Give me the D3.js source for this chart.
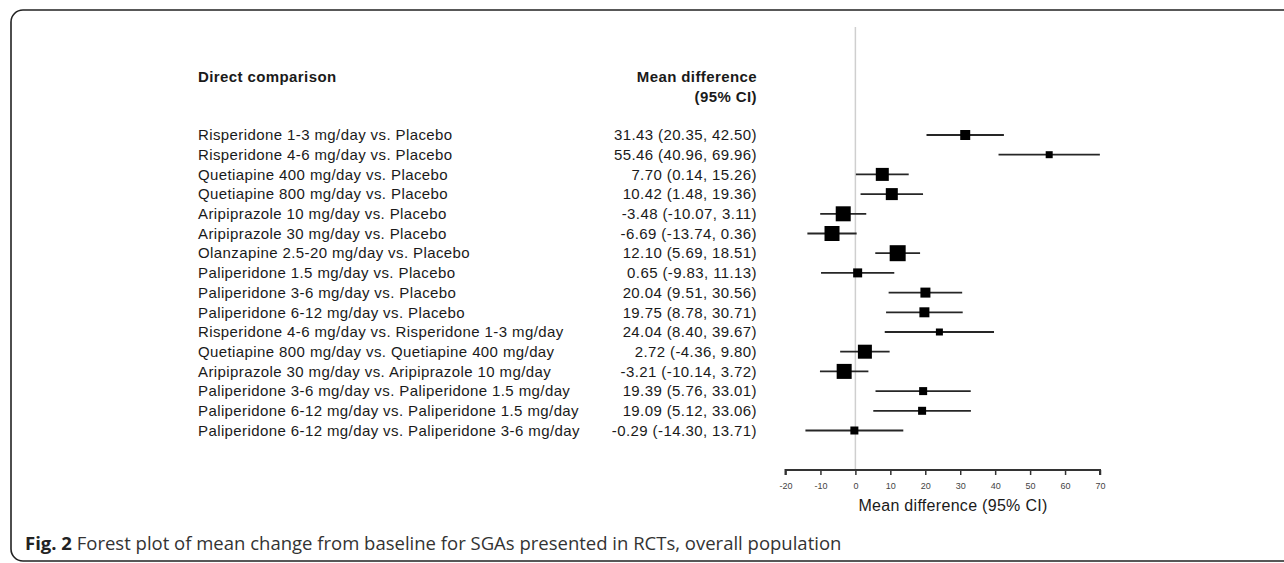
<!DOCTYPE html>
<html>
<head>
<meta charset="utf-8">
<script src="https://cdn.jsdelivr.net/npm/d3@7"></script>
<style>
  body { margin: 0; background: #fff; }
  svg text { font-family: "Liberation Sans", Arial, sans-serif; fill: #1a1a1a; }
  .row-text { font-size: 15px; letter-spacing: 0.4px; }
</style>
</head>
<body>
<div id="chart"></div>
<script>
// comparisons, top to bottom
const labels = [
  'Risperidone 1-3 mg/day vs. Placebo',
  'Risperidone 4-6 mg/day vs. Placebo',
  'Quetiapine 400 mg/day vs. Placebo',
  'Quetiapine 800 mg/day vs. Placebo',
  'Aripiprazole 10 mg/day vs. Placebo',
  'Aripiprazole 30 mg/day vs. Placebo',
  'Olanzapine 2.5-20 mg/day vs. Placebo',
  'Paliperidone 1.5 mg/day vs. Placebo',
  'Paliperidone 3-6 mg/day vs. Placebo',
  'Paliperidone 6-12 mg/day vs. Placebo',
  'Risperidone 4-6 mg/day vs. Risperidone 1-3 mg/day',
  'Quetiapine 800 mg/day vs. Quetiapine 400 mg/day',
  'Aripiprazole 30 mg/day vs. Aripiprazole 10 mg/day',
  'Paliperidone 3-6 mg/day vs. Paliperidone 1.5 mg/day',
  'Paliperidone 6-12 mg/day vs. Paliperidone 1.5 mg/day',
  'Paliperidone 6-12 mg/day vs. Paliperidone 3-6 mg/day'
];
const meanDiff = [31.43, 55.46, 7.70, 10.42, -3.48, -6.69, 12.10, 0.65, 20.04, 19.75, 24.04, 2.72, -3.21, 19.39, 19.09, -0.29];
const lower    = [20.35, 40.96, 0.14, 1.48, -10.07, -13.74, 5.69, -9.83, 9.51, 8.78, 8.40, -4.36, -10.14, 5.76, 5.12, -14.30];
const upper    = [42.50, 69.96, 15.26, 19.36, 3.11, 0.36, 18.51, 11.13, 30.56, 30.71, 39.67, 9.80, 3.72, 33.01, 33.06, 13.71];
// relative weight of each estimate (box size)
const weight   = [10, 7, 13, 12, 15, 15, 16, 9, 10, 10, 7, 14, 15, 8, 8, 8];
const xTicks = [-20, -10, 0, 10, 20, 30, 40, 50, 60, 70];

const width = 1284, height = 563;
const svg = d3.select('#chart').append('svg')
  .attr('width', width).attr('height', height);

// rounded frame
svg.append('rect')
  .attr('x', 11).attr('y', 10)
  .attr('width', 1300).attr('height', 551)
  .attr('rx', 12).attr('ry', 12)
  .attr('fill', 'none')
  .attr('stroke', '#222')
  .attr('stroke-width', 1.6);

const x = d3.scaleLinear().domain([-20, 70]).range([785.5, 1100]);
const y = d3.scalePoint().domain(d3.range(labels.length)).range([135, 430.5]);
const size = d3.scaleLinear().domain([0, 16]).range([0, 16]);

// plain hyphen for negatives, like the source figure
const fmt = v => d3.format('.2f')(v).replace('\u2212', '-');

// headers
svg.append('text').attr('x', 198).attr('y', 82)
  .attr('class', 'row-text').style('font-weight', 'bold')
  .text('Direct comparison');
svg.append('text').attr('x', 757).attr('y', 82).attr('text-anchor', 'end')
  .attr('class', 'row-text').style('font-weight', 'bold')
  .text('Mean difference');
svg.append('text').attr('x', 757).attr('y', 102).attr('text-anchor', 'end')
  .attr('class', 'row-text').style('font-weight', 'bold')
  .text('(95% CI)');

// zero line
svg.append('line')
  .attr('x1', x(0)).attr('x2', x(0))
  .attr('y1', 27).attr('y2', 469)
  .attr('stroke', '#cfcfcf').attr('stroke-width', 1.5);

const rows = svg.append('g').selectAll('g')
  .data(d3.range(labels.length)).enter().append('g');

rows.append('text')
  .attr('class', 'row-text')
  .attr('x', 198).attr('y', i => y(i)).attr('dy', '0.35em')
  .text(i => labels[i]);

rows.append('text')
  .attr('class', 'row-text')
  .attr('x', 757).attr('y', i => y(i)).attr('dy', '0.35em')
  .attr('text-anchor', 'end')
  .text(i => fmt(meanDiff[i]) + ' (' + fmt(lower[i]) + ', ' + fmt(upper[i]) + ')');

rows.append('line')
  .attr('x1', i => x(lower[i])).attr('x2', i => x(upper[i]))
  .attr('y1', i => y(i)).attr('y2', i => y(i))
  .attr('stroke', '#262626').attr('stroke-width', 1.8);

rows.append('rect')
  .attr('x', i => x(meanDiff[i]) - size(weight[i]) / 2)
  .attr('y', i => y(i) - size(weight[i]) / 2)
  .attr('width', i => size(weight[i]))
  .attr('height', i => size(weight[i]))
  .attr('fill', '#000');

// x axis
const axis = svg.append('g')
  .attr('transform', 'translate(0,470)')
  .call(d3.axisBottom(x).tickValues(xTicks).tickSize(5).tickFormat(d => String(d)));
axis.select('.domain').attr('stroke', '#333').attr('stroke-width', 2)
  .attr('d', 'M' + x(-20) + ',5V0H' + x(70) + 'V5');
axis.selectAll('.tick line').attr('stroke', '#333').attr('stroke-width', 1.5);
axis.selectAll('.tick text')
  .attr('y', 13)
  .style('font-size', '9px').style('fill', '#444')
  .style('font-family', '"Liberation Sans", Arial, sans-serif');

svg.append('text')
  .attr('x', 953).attr('y', 511)
  .attr('text-anchor', 'middle')
  .style('font-size', '16px').style('letter-spacing', '0.3px')
  .text('Mean difference (95% CI)');

// caption
const cap = svg.append('text').attr('x', 25).attr('y', 550)
  .style('font-family', '"Open Sans", "Noto Sans", sans-serif')
  .style('font-size', '18.5px');
cap.append('tspan').style('font-weight', 'bold').style('fill', '#222').text('Fig. 2');
cap.append('tspan').style('fill', '#333').text(' Forest plot of mean change from baseline for SGAs presented in RCTs, overall population');
</script>
</body>
</html>
